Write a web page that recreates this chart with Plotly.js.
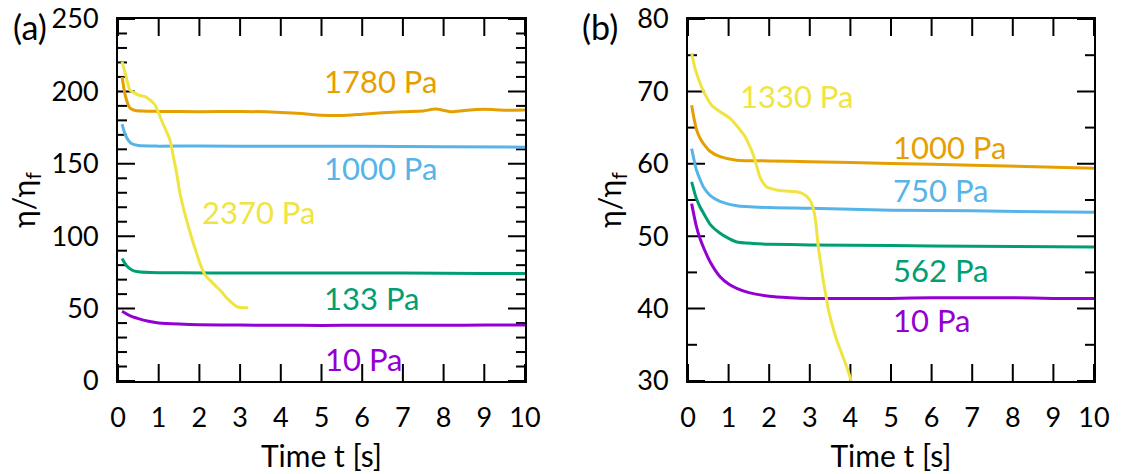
<!DOCTYPE html>
<html>
<head>
<meta charset="utf-8">
<script src="https://cdn.plot.ly/plotly-3.0.1.min.js"></script>
<style>html,body{margin:0;padding:0;background:#fff}#chart{width:1122px;height:474px}</style>
</head>
<body>
<div id="chart"></div>
<script>
// ---- Panel (a) data ----
const a_t_10 = [0.1,0.3,0.5,0.75,1,1.5,2,3,4,5,6,7,8,9,10];
const a_v_10 = [48.2,45,43.1,41.3,40.1,39.3,38.9,38.6,38.5,38.4,38.5,38.5,38.5,38.6,38.6];
const a_t_133 = [0.1,0.2,0.35,0.5,0.8,1.5,3,5,7,9,10];
const a_v_133 = [84.6,80,76.5,75.4,74.9,74.7,74.6,74.5,74.6,74.3,74.2];
const a_t_1000 = [0.1,0.18,0.26,0.33,0.5,1,2,4,6,8,10];
const a_v_1000 = [177.4,170,166,164,162.6,162.2,162.3,162.1,162.2,161.8,161.5];
const a_t_1780 = [0.1,0.18,0.28,0.4,0.6,1,2,3,4,4.5,5,5.5,6,6.5,7,7.5,7.8,8.2,8.5,9,9.5,10];
const a_v_1780 = [210,197,189,187,186.4,186.2,186,186.2,185.5,184.8,183.6,183.4,184.3,185.2,186,186.5,187.8,186,186.8,187.6,187,187.2];
const a_t_2370 = [0.1,0.2,0.29,0.4,0.5,0.65,0.79,0.91,1.0,1.07,1.18,1.28,1.36,1.44,1.52,1.62,1.73,1.83,1.93,2.03,2.14,2.28,2.42,2.55,2.67,2.8,2.92,3.05,3.2];
const a_v_2370 = [220.5,210,201,199,197.5,196.5,194,190.6,185,180,173,166,155,143.6,130,118,106.6,97,88.3,80,73.2,69,65.1,61.5,57.3,54,51.3,50.6,50.6];

// ---- Panel (b) data ----
const b_t_10 = [0.09,0.2,0.3,0.4,0.55,0.79,1.0,1.2,1.5,2.0,2.5,3,4,5,6,7,8,9,10];
const b_v_10 = [54.5,51.5,49.6,48.2,46.4,44.4,43.4,42.8,42.2,41.7,41.5,41.4,41.4,41.4,41.5,41.5,41.5,41.4,41.4];
const b_t_562 = [0.09,0.2,0.3,0.38,0.55,0.79,1.0,1.2,1.6,2,3,5,7,10];
const b_v_562 = [57.5,55.3,54,53.2,51.6,50.4,49.7,49.2,49,48.9,48.8,48.7,48.6,48.5];
const b_t_750 = [0.09,0.15,0.21,0.3,0.38,0.55,0.79,1.2,2,3,5,7,10];
const b_v_750 = [62.1,60.5,59.1,57.8,56.8,55.6,54.8,54.2,53.95,53.85,53.6,53.5,53.3];
const b_t_1000 = [0.09,0.15,0.21,0.3,0.38,0.55,0.79,1.2,2,3,5,7,10];
const b_v_1000 = [68.1,66.2,64.7,63.5,62.8,61.7,61.0,60.5,60.4,60.3,60.05,59.8,59.4];
const b_t_1330 = [0.09,0.15,0.21,0.3,0.38,0.48,0.58,0.79,1.03,1.15,1.28,1.4,1.49,1.57,1.65,1.77,1.86,1.94,2.1,2.27,2.5,2.68,2.82,2.92,3.0,3.07,3.14,3.21,3.27,3.33,3.4,3.46,3.56,3.66,3.8,3.92,4.02];
const b_v_1330 = [75.3,73.7,72.5,71.1,70.0,69.0,68.1,67.2,66.3,65.6,64.7,63.8,62.8,61.8,60.5,58.2,57.3,56.8,56.5,56.3,56.2,56.15,55.9,55.5,55.0,54.1,52.2,48.5,46.2,43.9,41.7,39.8,37.6,35.7,33.6,31.8,30.0];

// ---- Tick values ----
const x_ticks = [0,1,2,3,4,5,6,7,8,9,10];
const a_y_major = [0,50,100,150,200,250];
const a_y_minor = [10,20,30,40,60,70,80,90,110,120,130,140,160,170,180,190,210,220,230,240];
const b_y_major = [30,40,50,60,70,80];
const b_y_minor = [35,45,55,65,75];

// ---- Labels ----
const a_labels = ["1780 Pa","1000 Pa","2370 Pa","133 Pa","10 Pa"];
const a_label_t = [6.46,6.46,3.45,6.24,6.02];
const a_label_v = [207,147,117,57,15.4];
const b_labels = ["1330 Pa","1000 Pa","750 Pa","562 Pa","10 Pa"];
const b_label_t = [2.66,6.45,6.22,6.22,6.0];
const b_label_v = [69.3,62.35,56.4,45.4,38.4];

const C = {purple:"#9400D3", green:"#009E73", blue:"#56B4E9", orange:"#E69F00", yellow:"#F0E442"};
const FONT = "Lato, 'Open Sans', sans-serif";

const MAJ = 17, MIN = 9;
const XR = [0,10], A_YR = [0,250], B_YR = [30,80];

function line(x, y, color, xa, ya) {
  return {x:x, y:y, type:"scatter", mode:"lines", line:{color:color, width:3, shape:"spline", smoothing:0.6},
          xaxis:xa, yaxis:ya, showlegend:false, hoverinfo:"skip"};
}

// inside tick marks: line markers centred on the frame, clipped to the plot area so only the inner half shows
function tickMarkers(xs, ys, symbol, halfLen, xa, ya) {
  return {x:xs, y:ys, type:"scatter", mode:"markers", cliponaxis:true,
          marker:{symbol:symbol, size:halfLen/0.7, color:"#000", line:{color:"#000", width:2}},
          xaxis:xa, yaxis:ya, showlegend:false, hoverinfo:"skip"};
}
function panelTicks(xa, ya, yr, yMajor, yMinor) {
  const out = [];
  out.push(tickMarkers(x_ticks.concat(x_ticks), x_ticks.map(()=>yr[0]).concat(x_ticks.map(()=>yr[1])), "line-ns", MAJ, xa, ya));
  out.push(tickMarkers(yMajor.map(()=>XR[0]).concat(yMajor.map(()=>XR[1])), yMajor.concat(yMajor), "line-ew", MAJ, xa, ya));
  out.push(tickMarkers(yMinor.map(()=>XR[0]).concat(yMinor.map(()=>XR[1])), yMinor.concat(yMinor), "line-ew", MIN, xa, ya));
  return out;
}

const data = []
  .concat(panelTicks("x", "y", A_YR, a_y_major, a_y_minor))
  .concat(panelTicks("x2", "y2", B_YR, b_y_major, b_y_minor))
  .concat([
    line(a_t_10, a_v_10, C.purple, "x", "y"),
    line(a_t_133, a_v_133, C.green, "x", "y"),
    line(a_t_1000, a_v_1000, C.blue, "x", "y"),
    line(a_t_1780, a_v_1780, C.orange, "x", "y"),
    line(a_t_2370, a_v_2370, C.yellow, "x", "y"),
    line(b_t_10, b_v_10, C.purple, "x2", "y2"),
    line(b_t_562, b_v_562, C.green, "x2", "y2"),
    line(b_t_750, b_v_750, C.blue, "x2", "y2"),
    line(b_t_1000, b_v_1000, C.orange, "x2", "y2"),
    line(b_t_1330, b_v_1330, C.yellow, "x2", "y2")
  ]);

const a_colors = [C.orange, C.blue, C.yellow, C.green, C.purple];
const b_colors = [C.yellow, C.orange, C.blue, C.green, C.purple];

const annotations = [];
a_labels.forEach((s,i)=>annotations.push({x:a_label_t[i], y:a_label_v[i], xref:"x", yref:"y", text:s, showarrow:false,
  xanchor:"center", yanchor:"middle", font:{family:FONT, size:31, color:a_colors[i]}}));
b_labels.forEach((s,i)=>annotations.push({x:b_label_t[i], y:b_label_v[i], xref:"x2", yref:"y2", text:s, showarrow:false,
  xanchor:"center", yanchor:"middle", font:{family:FONT, size:31, color:b_colors[i]}}));
annotations.push({x:30/1122, y:1-26/474, xref:"paper", yref:"paper", text:"(a)", showarrow:false, xanchor:"center", yanchor:"middle", font:{family:FONT, size:34, color:"#000"}});
annotations.push({x:600/1122, y:1-26/474, xref:"paper", yref:"paper", text:"(b)", showarrow:false, xanchor:"center", yanchor:"middle", font:{family:FONT, size:34, color:"#000"}});

const tf = {family:FONT, size:27, color:"#000"};
function xax(domain, anchor) {
  return {domain:domain, anchor:anchor, range:XR, tickvals:x_ticks, ticks:"", showline:true, linewidth:2, linecolor:"#000",
    mirror:true, showgrid:false, zeroline:false, tickfont:tf, ticklabelstandoff:12,
    title:{text:"Time t [s]", font:{family:FONT, size:30, color:"#000"}, standoff:14}};
}
function yax(domain, anchor, range, vals) {
  return {domain:domain, anchor:anchor, range:range, tickvals:vals, ticks:"", showline:true, linewidth:2, linecolor:"#000",
    mirror:true, showgrid:false, zeroline:false, tickfont:tf, ticklabelstandoff:12,
    title:{text:"η/η<sub>f</sub>", font:{family:FONT, size:30, color:"#000"}, standoff:7}};
}

const yd = [93/474, 455/474];
const layout = {
  width:1122, height:474, margin:{l:0,r:0,t:0,b:0, autoexpand:false}, paper_bgcolor:"#fff", plot_bgcolor:"#fff",
  xaxis: xax([118/1122, 525/1122], "y"),
  yaxis: yax(yd, "x", A_YR, a_y_major),
  xaxis2: xax([688/1122, 1094/1122], "y2"),
  yaxis2: yax(yd, "x2", B_YR, b_y_major),
  annotations: annotations
};

Plotly.newPlot("chart", data, layout, {displayModeBar:false});
</script>
</body>
</html>
